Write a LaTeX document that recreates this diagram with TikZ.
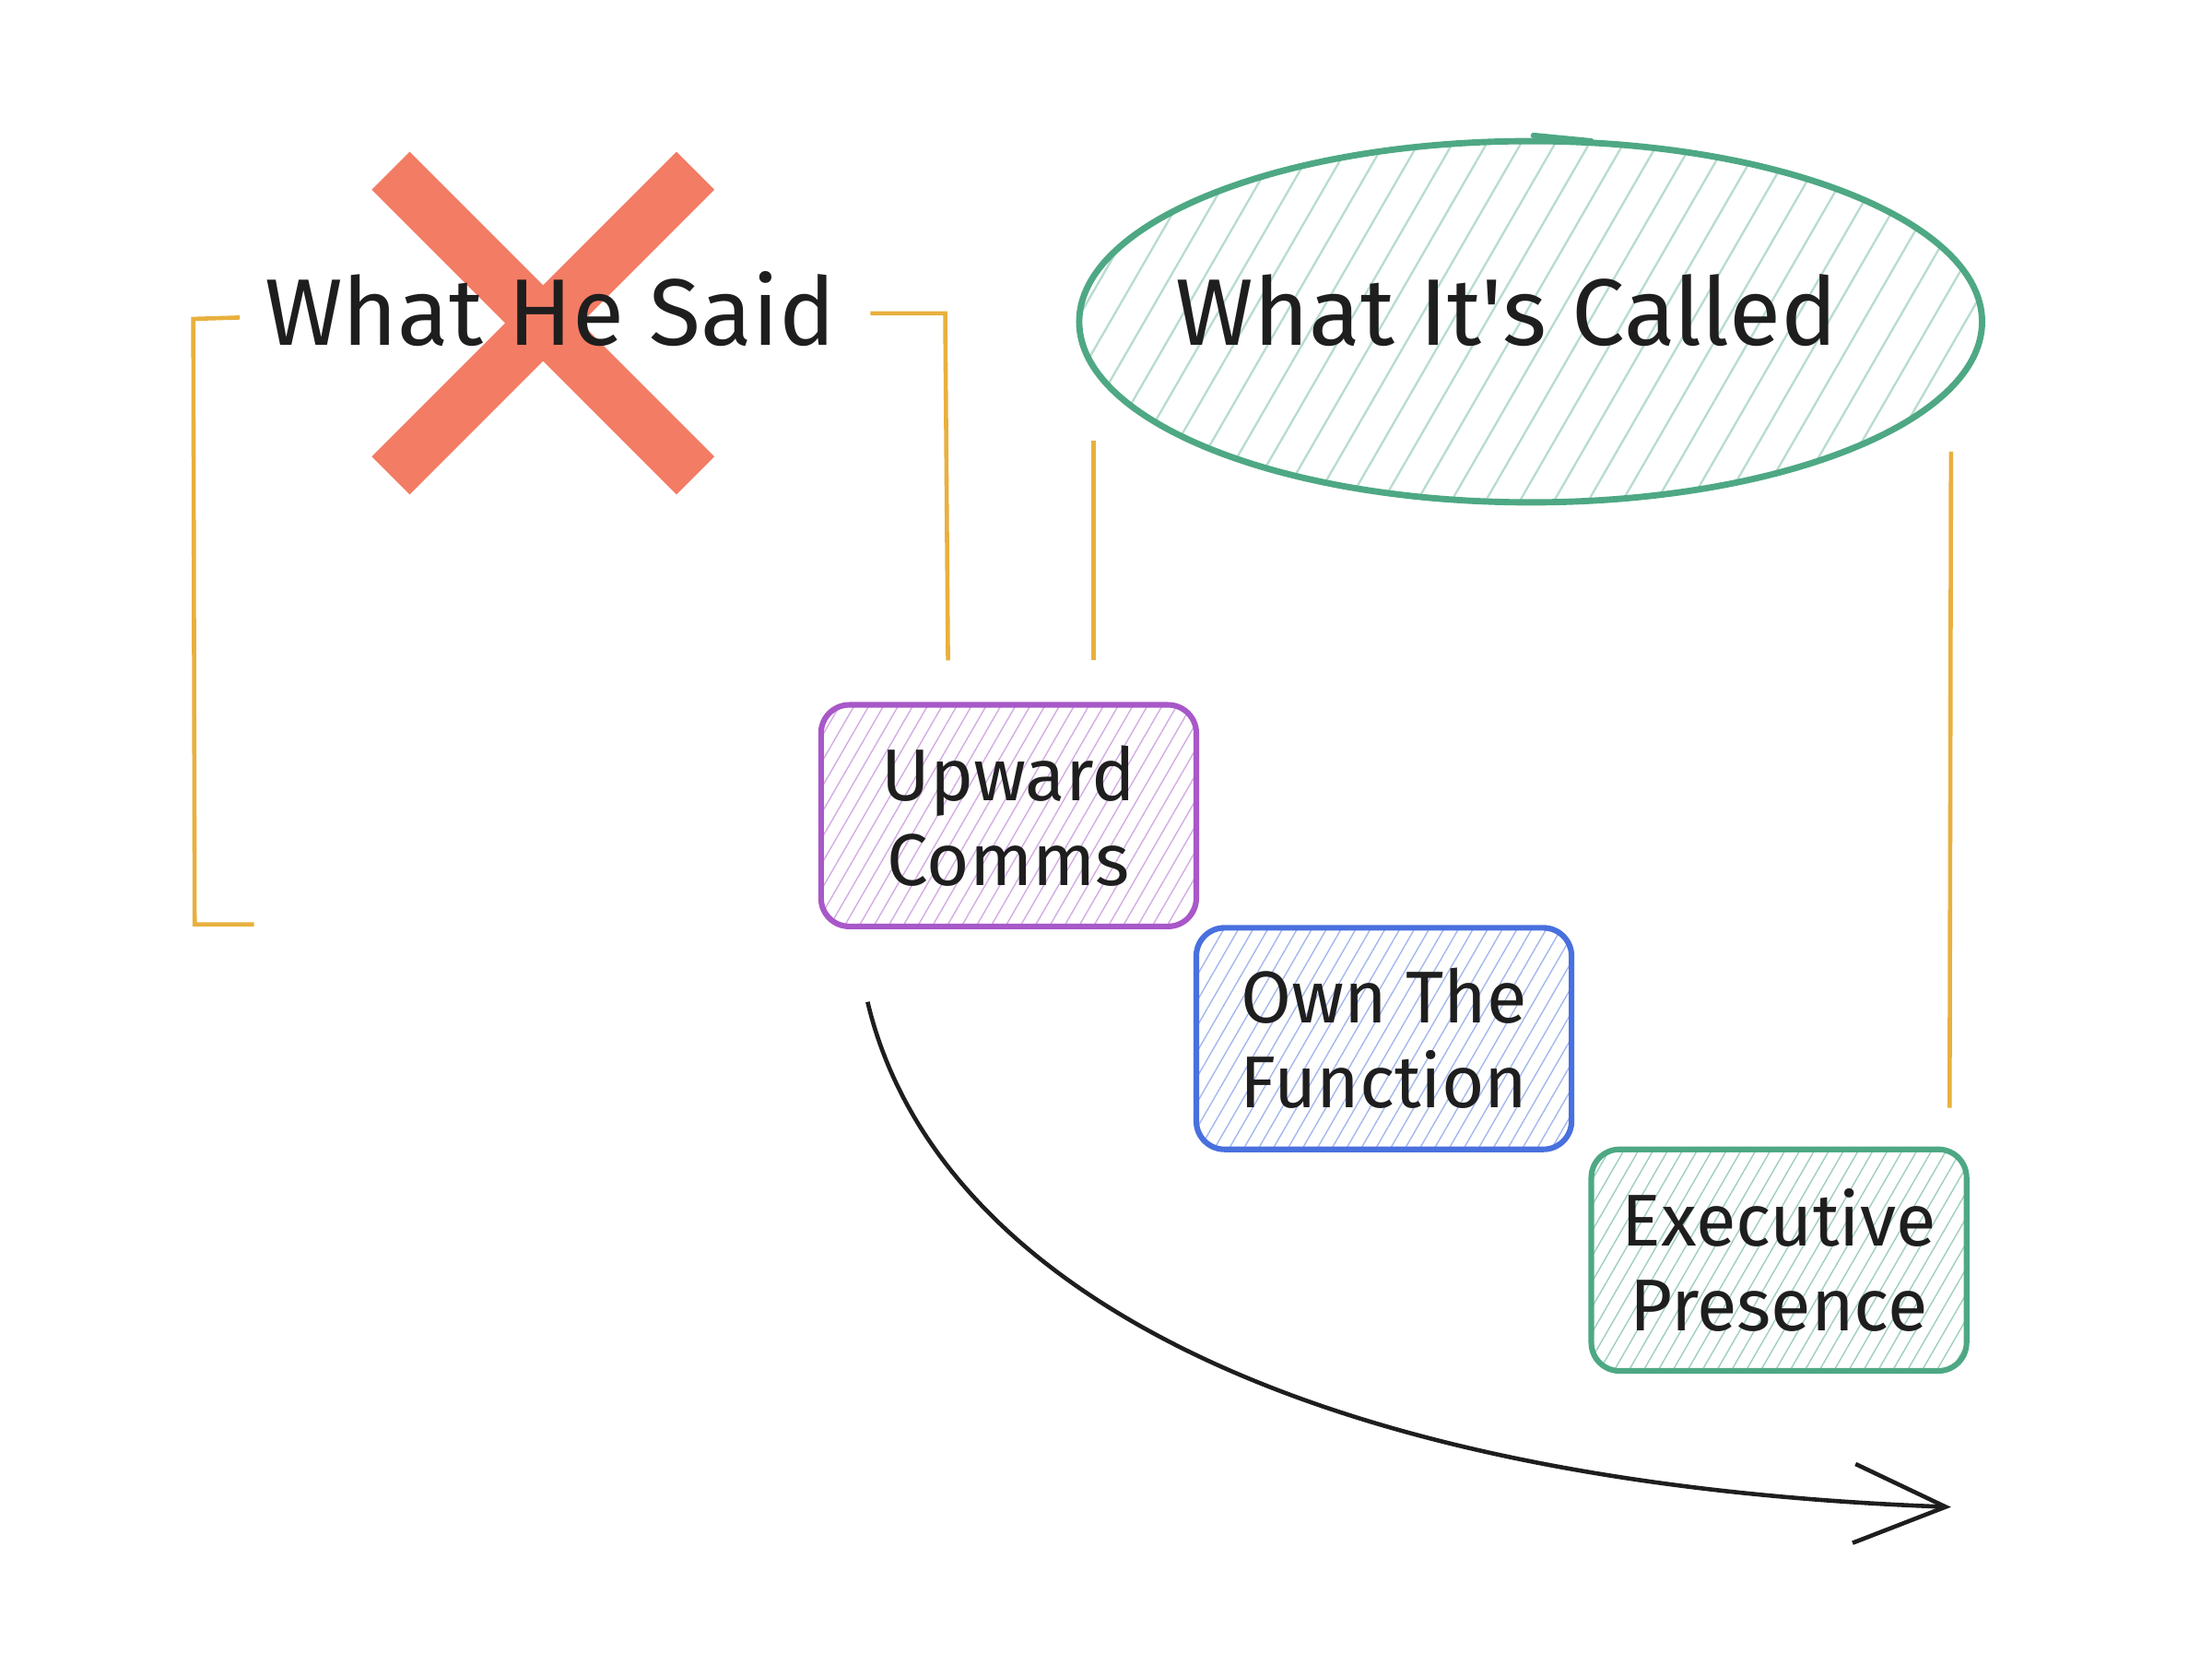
\documentclass[tikz,border=0pt]{standalone}
\usepackage{fontspec}
\setmainfont{Fira Sans}
\usetikzlibrary{positioning,arrows.meta,patterns.meta,shapes.geometric}
\definecolor{grape}{RGB}{168,88,200}
\definecolor{sky}{RGB}{72,112,222}
\definecolor{mint}{RGB}{78,168,132}
\definecolor{amber}{RGB}{232,176,62}
\definecolor{salmon}{RGB}{243,124,100}
\definecolor{ink}{RGB}{30,30,30}
\begin{document}
\begin{tikzpicture}[x=1pt,y=-1pt,
 title/.style={text=ink,font=\fontsize{67}{70}\selectfont,inner sep=0pt},
 card/.style={rectangle,rounded corners=20pt,line width=4pt,minimum width=266pt,minimum height=157pt,
   align=center,text=ink,font=\fontsize{52}{60}\selectfont,
   pattern={Lines[angle=60,distance=9pt,line width=0.9pt]}},
 bracket/.style={amber,line width=3pt},
]
\fill[white] (0,0) rectangle (1568,1171);
\useasboundingbox (0,0) rectangle (1568,1171);

\draw[salmon,line width=38pt] (277,121) -- (493,337) (493,121) -- (277,337);
\node (said)[title] at (390,219) {What He Said};

\node (ring)[ellipse,draw=mint,line width=4.5pt,minimum width=640pt,minimum height=256pt,
  pattern={Lines[angle=60,distance=21pt,line width=1.5pt]},pattern color=mint!40] at (1085,228) {};
\draw[mint,line width=4pt,line cap=round] (1087,96) -- (1128,100);
\node (called)[title] at (1068,220) {What It\textquotesingle s Called};

\node (up)[card,draw=grape,pattern color=grape!50] at (715,578) {Upward\\Comms};
\node (own)[card,draw=sky,pattern color=sky!50] at (981,736) {Own The\\Function};
\node (exec)[card,draw=mint,pattern color=mint!55] at (1261,893) {Executive\\Presence};

\coordinate (la) at (170,225);
\coordinate (lb) at (180,655);
\coordinate (ra) at (617,222);
\coordinate (rb) at (672,468);
\coordinate (ma) at (775,312);
\coordinate (mb) at (775,468);
\coordinate (ea) at (1383,320);
\coordinate (eb) at (1382,785);
\draw[bracket] (la) -- (137,226) -- (138,655) -- (lb);
\draw[bracket] (ra) -- (670,222) -- (rb);
\draw[bracket] (ma) -- (mb);
\draw[bracket] (ea) -- (eb);

\coordinate (flowstart) at (615,710);
\coordinate (flowend) at (1383,1068);
\draw[ink,line width=3pt,-{Straight Barb[length=65pt,width=56pt]}]
  (flowstart) .. controls (660,900) and (900,1050) .. (flowend);
\end{tikzpicture}
\end{document}
